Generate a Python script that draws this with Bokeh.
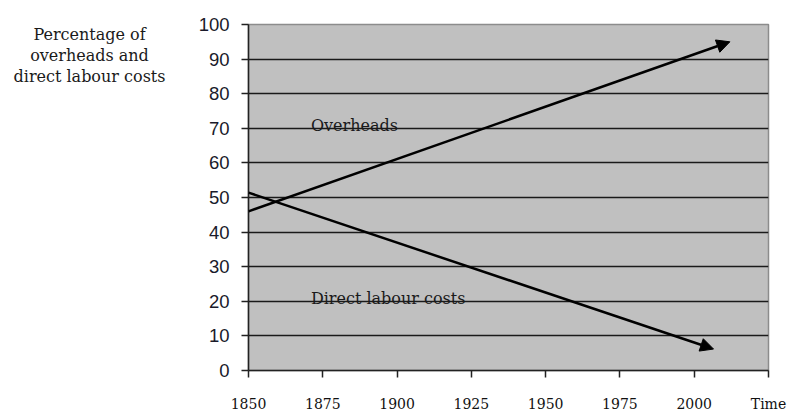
from bokeh.plotting import figure
from bokeh.layouts import row
from bokeh.models import Range1d, FixedTicker, Label, Arrow, NormalHead, ColumnDataSource
from bokeh.core.properties import value
from bokeh.embed import file_html
from bokeh.resources import INLINE

# Data
years = [1850, 2012]
overheads = [46, 95]
labour_years = [1850, 2006.5]
labour = [51.4, 6.2]
x_ticks = [1850, 1875, 1900, 1925, 1950, 1975, 2000, 2025]
x_tick_labels = ["1850", "1875", "1900", "1925", "1950", "1975", "2000", "Time"]
y_ticks = [0, 10, 20, 30, 40, 50, 60, 70, 80, 90, 100]
y_title = ["Percentage of", "overheads and", "direct labour costs"]
y_title_pos = [97.1, 91.1, 85.1]

TW = 180
yr = Range1d(0, 100)
# title panel (left), same vertical frame as the chart
tf = figure(width=TW, height=414, output_backend="svg", toolbar_location=None,
            x_axis_location=None, y_axis_location=None, title=None,
            x_range=Range1d(0, TW), y_range=yr,
            min_border_left=0, min_border_right=0, min_border_top=24, min_border_bottom=40)
tf.grid.visible = False
tf.outline_line_color = None
tf.background_fill_color = "white"
tf.text(x=[89, 89, 89], y=y_title_pos, text=y_title,
        text_font=value("DejaVu Serif"), text_font_size="16px", text_color="#1a1a1a",
        text_align="center", text_baseline="alphabetic")

p = figure(width=790 - TW, height=414, output_backend="svg", toolbar_location=None,
           x_range=Range1d(1850, 2025), y_range=yr,
           min_border_left=248 - TW, min_border_right=22, min_border_top=24, min_border_bottom=40)

p.background_fill_color = "#c0c0c0"
p.border_fill_color = "white"
p.outline_line_color = "#8c8c8c"
p.outline_line_width = 1.5

p.xgrid.grid_line_color = None
p.ygrid.grid_line_color = "#1a1a1a"
p.ygrid.grid_line_width = 1.4
p.ygrid.ticker = FixedTicker(ticks=y_ticks[1:-1])

# y axis
p.yaxis.ticker = FixedTicker(ticks=y_ticks)
p.yaxis.major_tick_out = 7
p.yaxis.major_tick_in = 0
p.yaxis.minor_tick_line_color = None
p.yaxis.axis_line_color = "#222222"
p.yaxis.axis_line_width = 1.5
p.yaxis.major_tick_line_color = "#222222"
p.yaxis.major_tick_line_width = 1.5
p.yaxis.major_label_text_font = "Liberation Sans"
p.yaxis.major_label_text_font_size = "18.5px"
p.yaxis.major_label_text_color = "#1a1a2a"
p.yaxis.major_label_standoff = 12

# x axis
p.xaxis.ticker = FixedTicker(ticks=x_ticks)
p.xaxis.major_label_overrides = {t: l for t, l in zip(x_ticks, x_tick_labels)}
p.xaxis.major_tick_out = 7
p.xaxis.major_tick_in = 0
p.xaxis.minor_tick_line_color = None
p.xaxis.axis_line_color = "#222222"
p.xaxis.axis_line_width = 1.5
p.xaxis.major_tick_line_color = "#222222"
p.xaxis.major_tick_line_width = 1.5
p.xaxis.major_label_text_font = "DejaVu Serif"
p.xaxis.major_label_text_font_size = "14px"
p.xaxis.major_label_text_color = "#111111"
p.xaxis.major_label_standoff = 18

# arrows
src_o = ColumnDataSource(dict(x0=[years[0]], y0=[overheads[0]], x1=[years[1]], y1=[overheads[1]]))
src_l = ColumnDataSource(dict(x0=[labour_years[0]], y0=[labour[0]], x1=[labour_years[1]], y1=[labour[1]]))
for src in (src_o, src_l):
    p.add_layout(Arrow(source=src, x_start="x0", y_start="y0", x_end="x1", y_end="y1",
                       line_width=2.5, line_color="black",
                       end=NormalHead(size=13, fill_color="black", line_color="black", line_width=1)))

# in-plot labels
p.add_layout(Label(x=1871, y=70.8, text="Overheads", text_font="DejaVu Serif",
                   text_font_size="16px", text_color="#1a1a1a", text_baseline="alphabetic"))
p.add_layout(Label(x=1871, y=20.8, text="Direct labour costs", text_font="DejaVu Serif",
                   text_font_size="16px", text_color="#1a1a1a", text_baseline="alphabetic"))

layout = row(tf, p, spacing=0)
open("out.html", "w").write(file_html(layout, INLINE))
